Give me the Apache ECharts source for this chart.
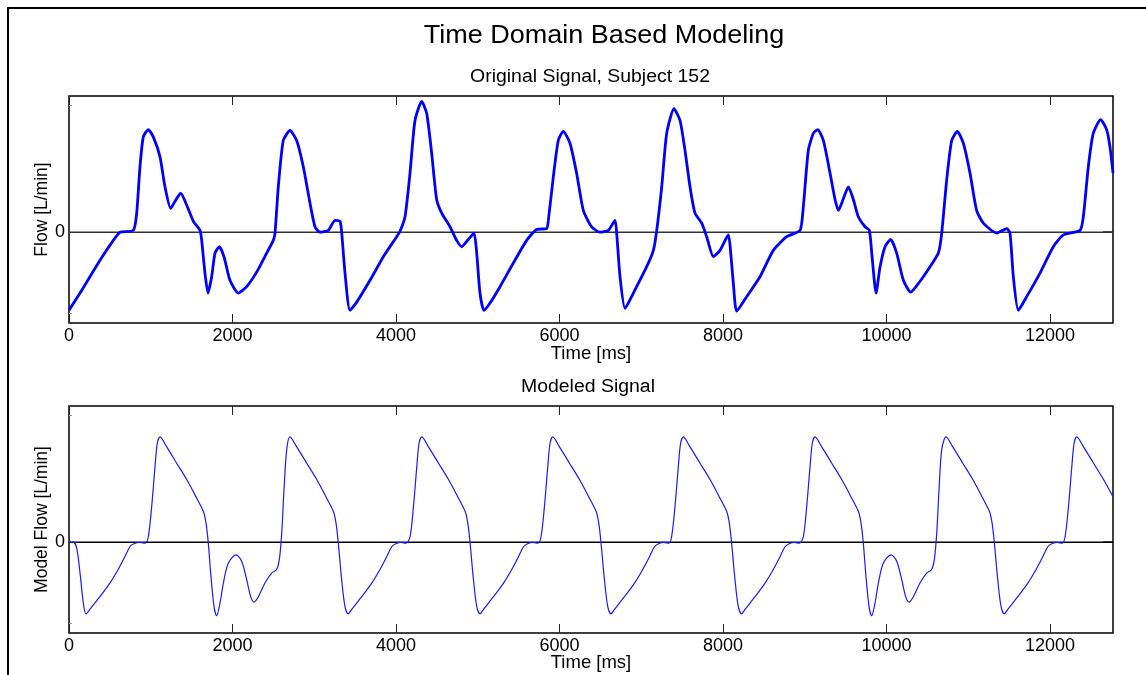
<!DOCTYPE html>
<html>
<head>
<meta charset="utf-8">
<script src="https://cdn.jsdelivr.net/npm/echarts@6/dist/echarts.min.js"></script>
<style>
  html, body { margin: 0; padding: 0; background: #fff; }
  #chart { width: 1146px; height: 675px; }
</style>
</head>
<body>
<div id="chart"></div>
<script>
// Flow recordings: measured signal (top) and its time-domain model (bottom)
const FONT = '"Liberation Sans", Arial, Helvetica, sans-serif';

const timeRange = [0, 12770];          // ms
const flowRange = [-100, 150];         // L/min
const timeTicks = [0, 2000, 4000, 6000, 8000, 10000, 12000];
const flowTickMarks = [-89, 0, 140];
const flowTickLabels = [0];
const zeroFlow = [0, 0];

// Original signal, subject 152
const origTime = [
  0, 135, 379, 542, 624, 787, 828, 868, 909, 970, 1031, 1113, 1174, 1244, 1297, 1366, 1439, 1521,
  1602, 1623, 1663, 1700, 1745, 1786, 1839, 1896, 1969, 2071, 2173, 2295, 2418, 2499, 2520, 2560,
  2621, 2703, 2785, 2866, 2948, 3009, 3070, 3172, 3254, 3315, 3336, 3376, 3437, 3519, 3682, 3845,
  4008, 4049, 4110, 4171, 4232, 4314, 4375, 4436, 4497, 4559, 4660, 4742, 4803, 4884, 4954, 4987,
  5027, 5076, 5150, 5272, 5435, 5598, 5720, 5843, 5863, 5924, 5985, 6046, 6128, 6209, 6291, 6392,
  6495, 6597, 6679, 6699, 6740, 6801, 6903, 7066, 7148, 7189, 7250, 7311, 7400, 7474, 7535, 7596,
  7657, 7739, 7800, 7882, 7963, 8065, 8094, 8126, 8167, 8289, 8452, 8615, 8778, 8942, 8982, 9043,
  9105, 9158, 9227, 9309, 9370, 9411, 9472, 9533, 9594, 9655, 9737, 9790, 9819, 9872, 9921, 9982,
  10051, 10124, 10206, 10296, 10410, 10532, 10634, 10675, 10736, 10797, 10866, 10939, 11021, 11102,
  11184, 11347, 11470, 11510, 11551, 11612, 11714, 11877, 12040, 12163, 12367, 12407, 12468, 12529,
  12619, 12692, 12733, 12770
];
const origFlow = [
  -86, -67, -31, -9, 0, 2, 21, 72, 105, 113, 105, 83, 50, 26, 34, 43, 30, 12,
  2, -9, -45, -67, -49, -23, -16, -27, -53, -67, -60, -44, -23, -9, -1, 50,
  101, 112, 101, 72, 32, 6, 0, 2, 13, 12, -1, -45, -86, -77, -53, -27,
  -5, 1, 17, 65, 123, 144, 131, 87, 36, 21, 6, -9, -16, -8, -1, -23,
  -67, -86, -78, -60, -34, -9, 3, 4, 13, 61, 101, 111, 98, 65, 24, 6,
  0, 2, 13, -1, -49, -84, -67, -38, -20, 2, 50, 109, 136, 123, 90, 50,
  21, 10, -5, -27, -20, -3, -23, -56, -87, -71, -49, -20, -5, 2, 28, 90,
  109, 113, 101, 65, 36, 24, 37, 50, 36, 17, 6, 2, -23, -67, -38, -16,
  -8, -23, -53, -66, -54, -38, -23, -1, 58, 101, 111, 98, 65, 24,
  10, -1, 4, -1, -49, -86, -71, -45, -16, -3, 2, 17, 72, 109,
  124, 113, 94, 65
];

// Modeled signal
const modelTime = [
  0, 52, 94, 135, 175, 208, 255, 377, 500, 601, 683, 744, 787, 868, 930, 970, 1011, 1052, 1080, 1113,
  1195, 1317, 1440, 1562, 1643, 1676, 1704, 1733, 1774, 1806, 1847, 1888, 1949, 2043, 2112, 2173,
  2222, 2263, 2316, 2397, 2479, 2540, 2573, 2602, 2630, 2663, 2703,
  2785, 2908, 3030, 3152, 3233, 3266, 3294, 3335, 3376, 3416, 3458, 3580, 3703, 3804, 3886, 3947,
  4003, 4061, 4123, 4172, 4213, 4254, 4282, 4315,
  4397, 4520, 4642, 4764, 4845, 4878, 4906, 4947, 4988, 5028, 5070, 5192, 5315, 5416, 5498, 5559,
  5615, 5673, 5735, 5774, 5815, 5856, 5884, 5917,
  5999, 6122, 6244, 6366, 6447, 6480, 6508, 6549, 6590, 6630, 6672, 6794, 6917, 7018, 7100, 7161,
  7217, 7275, 7337, 7371, 7412, 7453, 7481, 7514,
  7596, 7719, 7841, 7963, 8044, 8077, 8105, 8146, 8187, 8227, 8269, 8391, 8514, 8615, 8697, 8758,
  8814, 8872, 8934, 8982, 9023, 9064, 9092, 9125,
  9207, 9330, 9452, 9574, 9655, 9688, 9716, 9745, 9786, 9818, 9859, 9900, 9961, 10055, 10124, 10185,
  10234, 10275, 10328, 10409, 10491, 10552, 10585, 10614, 10642, 10675, 10728,
  10810, 10933, 11055, 11177, 11258, 11291, 11319, 11360, 11401, 11441, 11483, 11605, 11728, 11829,
  11911, 11972, 12028, 12086, 12148, 12184, 12225, 12266, 12294, 12327,
  12409, 12532, 12654, 12770
];
const modelFlow = [
  0, 0, -6.5, -34, -67, -79, -74, -60, -45, -30, -16, -5, -2, -0.3, -1, 6, 39, 83, 109, 116,
  105, 87, 69, 48.5, 34, 21, -1, -34, -71, -81, -67, -45, -23, -14, -21, -41,
  -60, -66, -60, -45, -34, -30, -19, 10, 58, 102, 116,
  105, 87, 69, 48.5, 34, 21, -1, -41, -71, -79, -74, -60, -45, -30, -16, -5,
  -1.5, -0.3, -1, 6, 39, 83, 109, 116,
  105, 87, 69, 48.5, 34, 21, -1, -41, -71, -79, -74, -60, -45, -30, -16, -5,
  -1.5, -0.3, -1, 6, 39, 83, 109, 116,
  105, 87, 69, 48.5, 34, 21, -1, -41, -71, -79, -74, -60, -45, -30, -16, -5,
  -1.5, -0.3, -1, 6, 39, 83, 109, 116,
  105, 87, 69, 48.5, 34, 21, -1, -41, -71, -79, -74, -60, -45, -30, -16, -5,
  -1.5, -0.3, -1, 6, 39, 83, 109, 116,
  105, 87, 69, 48.5, 34, 21, -1, -34, -71, -81, -67, -45, -23, -14, -21, -41,
  -60, -66, -60, -45, -34, -30, -19, 10, 58, 102, 116,
  105, 87, 69, 48.5, 34, 21, -1, -41, -71, -79, -74, -60, -45, -30,
  -16, -5, -1.5, -0.3, -1, 6, 39, 83, 109, 116,
  105, 87, 69, 50
];

const pairs = (xs, ys) => xs.map((x, i) => [x, ys[i]]);

const tickColor = '#222';
const textStyle = { color: '#000', fontFamily: FONT };
const plainNumber = v => String(v);

function bottomX(g, nameGap) {
  return {
    gridIndex: g, type: 'value', min: timeRange[0], max: timeRange[1], interval: 2000,
    position: 'bottom',
    axisLine: { show: false, onZero: false }, splitLine: { show: false },
    axisTick: { inside: true, length: 9, customValues: timeTicks, lineStyle: { color: tickColor, width: 1 } },
    axisLabel: { customValues: timeTicks, formatter: plainNumber, fontSize: 18, margin: 4, ...textStyle },
    name: 'Time [ms]', nameLocation: 'middle', nameGap: nameGap, nameMoveOverlap: false,
    nameTextStyle: { fontSize: 18.5, ...textStyle }
  };
}
function topX(g) {
  return {
    gridIndex: g, type: 'value', min: timeRange[0], max: timeRange[1], interval: 2000,
    position: 'top',
    axisLine: { show: false, onZero: false }, splitLine: { show: false },
    axisTick: { inside: true, length: 9, customValues: timeTicks, lineStyle: { color: tickColor, width: 1 } },
    axisLabel: { show: false }
  };
}
function leftY(g, name) {
  return {
    gridIndex: g, type: 'value', min: flowRange[0], max: flowRange[1], interval: 50,
    position: 'left',
    axisLine: { show: false, onZero: false }, splitLine: { show: false },
    axisTick: { inside: true, length: 3, customValues: flowTickMarks, lineStyle: { color: '#999', width: 1 } },
    axisLabel: { customValues: flowTickLabels, formatter: plainNumber, fontSize: 18, margin: 4, ...textStyle },
    name: name, nameLocation: 'middle', nameGap: 18, nameRotate: 90, nameMoveOverlap: false,
    nameTextStyle: { fontSize: 17.5, ...textStyle }
  };
}
function rightY(g) {
  return {
    gridIndex: g, type: 'value', min: flowRange[0], max: flowRange[1], interval: 50,
    position: 'right',
    axisLine: { show: false, onZero: false }, splitLine: { show: false },
    axisTick: { inside: true, length: 10, customValues: [0], lineStyle: { color: tickColor, width: 1.5 } },
    axisLabel: { show: false }
  };
}

const baseLine = (xi, yi, color) => ({
  type: 'line', xAxisIndex: xi, yAxisIndex: yi, data: pairs(timeRange, zeroFlow),
  symbol: 'none', silent: true, z: 1,
  lineStyle: { color: color, width: 1.5 }
});

const option = {
  backgroundColor: '#fff',
  animation: false,
  grid: [
    { left: 69, top: 96, width: 1044, height: 227, show: true, borderColor: '#000', borderWidth: 1.5, backgroundColor: 'transparent' },
    { left: 69, top: 406, width: 1044, height: 227, show: true, borderColor: '#000', borderWidth: 1.5, backgroundColor: 'transparent' }
  ],
  xAxis: [bottomX(0, 21), topX(0), bottomX(1, 20), topX(1)],
  yAxis: [leftY(0, 'Flow [L/min]'), rightY(0), leftY(1, 'Model Flow [L/min]'), rightY(1)],
  graphic: [
    { type: 'rect', silent: true, shape: { x: 8, y: 8, width: 1200, height: 700 },
      style: { fill: 'none', stroke: '#000', lineWidth: 2 } },
    { type: 'text', x: 604, y: 36, scaleX: 1.08, silent: true,
      style: { text: 'Time Domain Based Modeling', fontSize: 25, fontFamily: FONT, fill: '#000', align: 'center', verticalAlign: 'middle' } },
    { type: 'text', x: 590, y: 77, scaleX: 1.08, silent: true,
      style: { text: 'Original Signal, Subject 152', fontSize: 18, fontFamily: FONT, fill: '#000', align: 'center', verticalAlign: 'middle' } },
    { type: 'text', x: 588, y: 387, scaleX: 1.08, silent: true,
      style: { text: 'Modeled Signal', fontSize: 18, fontFamily: FONT, fill: '#000', align: 'center', verticalAlign: 'middle' } }
  ],
  series: [
    baseLine(0, 0, '#333'),
    {
      name: 'Flow', type: 'line', xAxisIndex: 0, yAxisIndex: 0,
      data: pairs(origTime, origFlow), showSymbol: false, smooth: 0.2, z: 3,
      lineStyle: { color: '#0000ff', width: 2.8 }
    },
    baseLine(2, 2, '#000'),
    {
      name: 'Model Flow', type: 'line', xAxisIndex: 2, yAxisIndex: 2,
      data: pairs(modelTime, modelFlow), showSymbol: false, smooth: 0.3, z: 3,
      lineStyle: { color: '#1a1aff', width: 1.2 }
    }
  ]
};

const chart = echarts.init(document.getElementById('chart'), null, { renderer: 'canvas' });
chart.setOption(option);
</script>
</body>
</html>
